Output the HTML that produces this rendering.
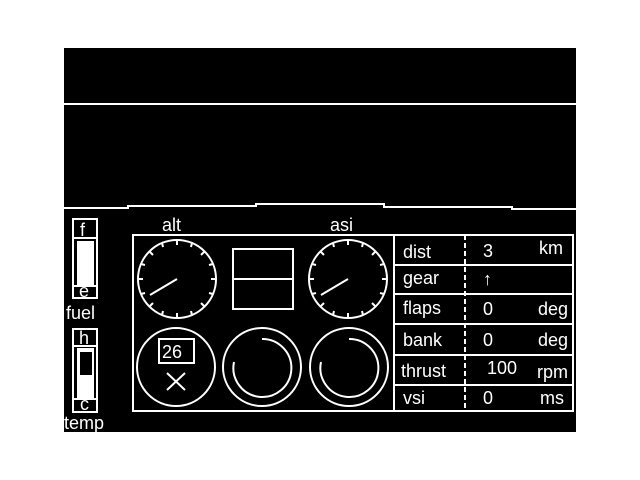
<!DOCTYPE html>
<html><head><style>
html,body{margin:0;padding:0;background:#fff;width:640px;height:480px;overflow:hidden}
svg{display:block}
text{font-family:"Liberation Sans",sans-serif;fill:#fff;font-size:18px}
</style></head><body>
<svg width="640" height="480" viewBox="0 0 640 480">
<rect x="64" y="48" width="512" height="384" fill="#000"/>
<g stroke="#fff" stroke-width="2" fill="none">
<line x1="64" y1="104" x2="576" y2="104"/>
<polyline points="64,208 128,208 128,206 256,206 256,204 384,204 384,207 512,207 512,209 576,209"/>
<rect x="133" y="235" width="261" height="176"/>
<rect x="394" y="235" width="179" height="176"/>
<line x1="394" y1="265" x2="573" y2="265"/>
<line x1="394" y1="294" x2="573" y2="294"/>
<line x1="394" y1="324" x2="573" y2="324"/>
<line x1="394" y1="355" x2="573" y2="355"/>
<line x1="394" y1="385" x2="573" y2="385"/>
<line x1="465" y1="235" x2="465" y2="411" stroke-dasharray="5,3"/>
<circle cx="177" cy="279" r="39"/>
<circle cx="348" cy="279" r="39"/>
<line x1="177" y1="279" x2="150" y2="295"/>
<line x1="348" y1="279" x2="321" y2="295"/>
<rect x="233" y="249" width="60" height="60"/>
<line x1="233" y1="279" x2="293" y2="279"/>
<circle cx="176" cy="367" r="39"/>
<circle cx="262" cy="367" r="39"/>
<circle cx="349" cy="367" r="39"/>
<path d="M262,339 A29,29 0 1 1 234,362"/>
<path d="M349,339 A29,29 0 1 1 321,362"/>
<rect x="159" y="339" width="35" height="24"/>
<line x1="167" y1="373" x2="185" y2="390"/>
<line x1="185" y1="373" x2="167" y2="390"/>
<rect x="73" y="219" width="24" height="79"/>
<line x1="73" y1="238" x2="97" y2="238"/>
<line x1="73" y1="286" x2="97" y2="286"/>
<rect x="73" y="329" width="24" height="83"/>
<line x1="73" y1="346" x2="97" y2="346"/>
<line x1="73" y1="399" x2="97" y2="399"/>
</g>
<g stroke="#fff" stroke-width="2">
<g id="t">
<line x1="177" y1="240" x2="177" y2="245"/>
<line x1="177" y1="313" x2="177" y2="318"/>
<line x1="138" y1="279" x2="143" y2="279"/>
<line x1="211" y1="279" x2="216" y2="279"/>
<line x1="150" y1="252" x2="153" y2="255"/>
<line x1="204" y1="252" x2="201" y2="255"/>
<line x1="150" y1="306" x2="153" y2="303"/>
<line x1="204" y1="306" x2="201" y2="303"/>
<line x1="162" y1="243" x2="163" y2="247"/>
<line x1="192" y1="243" x2="191" y2="247"/>
<line x1="162" y1="315" x2="163" y2="311"/>
<line x1="192" y1="315" x2="191" y2="311"/>
<line x1="141" y1="264" x2="145" y2="265"/>
<line x1="213" y1="264" x2="209" y2="265"/>
<line x1="141" y1="294" x2="145" y2="293"/>
<line x1="213" y1="294" x2="209" y2="293"/>
</g>
<use href="#t" x="171"/>
</g>
<rect x="77" y="241" width="17" height="44" fill="#fff"/>
<rect x="77" y="348" width="17" height="50" fill="#fff"/>
<rect x="80" y="352" width="12" height="23" fill="#000"/>
<text x="80" y="236" font-size="16">f</text>
<text x="79" y="297" font-size="14">e</text>
<text x="79" y="344" font-size="16">h</text>
<text x="80" y="410" font-size="14">c</text>
<text x="66" y="319" font-size="20">fuel</text>
<text x="64" y="429" font-size="20">temp</text>
<text x="162" y="231" font-size="19">alt</text>
<text x="330" y="231" font-size="19">asi</text>
<text x="162" y="358" font-size="17">26</text>
<text x="403" y="258">dist</text>
<text x="403" y="284">gear</text>
<text x="403" y="314">flaps</text>
<text x="403" y="346">bank</text>
<text x="401" y="377">thrust</text>
<text x="403" y="404">vsi</text>
<text x="483" y="257">3</text>
<text x="483" y="285">↑</text>
<text x="483" y="315">0</text>
<text x="483" y="346">0</text>
<text x="487" y="374">100</text>
<text x="483" y="404">0</text>
<text x="539" y="254">km</text>
<text x="538" y="315">deg</text>
<text x="538" y="346">deg</text>
<text x="537" y="378">rpm</text>
<text x="540" y="404">ms</text>
</svg>
</body></html>
